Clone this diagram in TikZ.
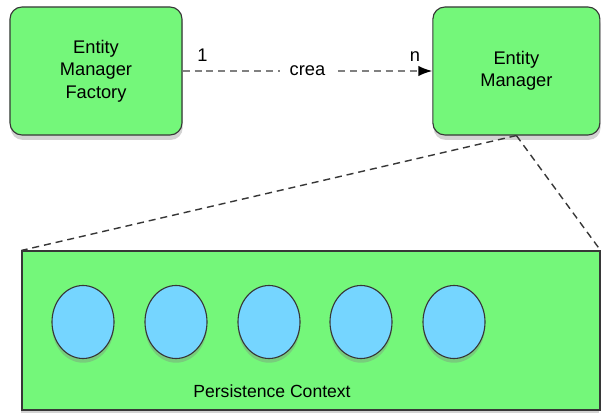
\documentclass[tikz,border=0pt]{standalone}
\usepackage{fontspec}
\setmainfont{Liberation Sans}
\usepackage{tikz}
\usetikzlibrary{shapes,arrows,arrows.meta,positioning,shadows}

\definecolor{emgreen}{RGB}{116,247,122}
\definecolor{ctxblue}{RGB}{117,213,255}
\definecolor{edgegray}{RGB}{55,55,55}

\begin{document}
\begin{tikzpicture}[auto, >={Latex[length=10pt, width=7.5pt, color=black]}]
    % Styles
    \tikzstyle{mgr} = [draw=edgegray, thick, fill=emgreen, rounded corners=0.3cm, align=center, font=\fontsize{13}{16}\selectfont, drop shadow={opacity=0.35, shadow xshift=0.5pt, shadow yshift=-3.5pt}]
    \tikzstyle{obj} = [draw=edgegray, thick, fill=ctxblue, ellipse, minimum width=1.55cm, minimum height=1.825cm, drop shadow={opacity=0.35, shadow xshift=0pt, shadow yshift=-3pt}]
    \tikzstyle{link} = [dashed, dash pattern=on 5pt off 3.5pt, line width=1.3pt]

    \useasboundingbox (0,0) rectangle (15.05,10.3);

    % Top row: factory and manager
    \node[mgr, minimum width=4.3cm, minimum height=3.2cm] (emf) at (2.4, 8.525) {Entity\\Manager\\Factory};
    \node[mgr, minimum width=4.175cm, minimum height=3.2cm] (em) at (12.91, 8.525) {Entity\\Manager};

    % Factory creates managers (1 -> n)
    \draw[link, gray, ->] (emf.east) -- node[pos=0.08, above=3pt, text=black, font=\fontsize{13}{16}\selectfont] {1}
        node[pos=0.5, anchor=center, fill=white, inner xsep=7pt, inner ysep=3pt, text=black, font=\fontsize{13}{16}\selectfont] {crea}
        node[pos=0.93, above=3pt, text=black, font=\fontsize{13}{16}\selectfont] {n} (em.west);

    % Persistence context at bottom
    \node[draw=edgegray, thick, fill=emgreen, minimum width=14.45cm, minimum height=3.975cm, drop shadow={opacity=0.35, shadow xshift=-1pt, shadow yshift=-2pt}] (pc) at (7.775, 2.0375) {};

    % Zoom lines from manager to context
    \draw[link, edgegray, line width=1pt] (em.south) -- (pc.north west);
    \draw[link, edgegray, line width=1pt] (em.south) -- (pc.north east);

    % Managed entities
    \node[obj] (e1) at (2.075, 2.25) {};
    \node[obj] (e2) at (4.4, 2.25) {};
    \node[obj] (e3) at (6.725, 2.25) {};
    \node[obj] (e4) at (9.025, 2.25) {};
    \node[obj] (e5) at (11.35, 2.25) {};

    \node[font=\fontsize{12.5}{15}\selectfont] (pclabel) at (6.8, 0.525) {Persistence Context};
\end{tikzpicture}
\end{document}
